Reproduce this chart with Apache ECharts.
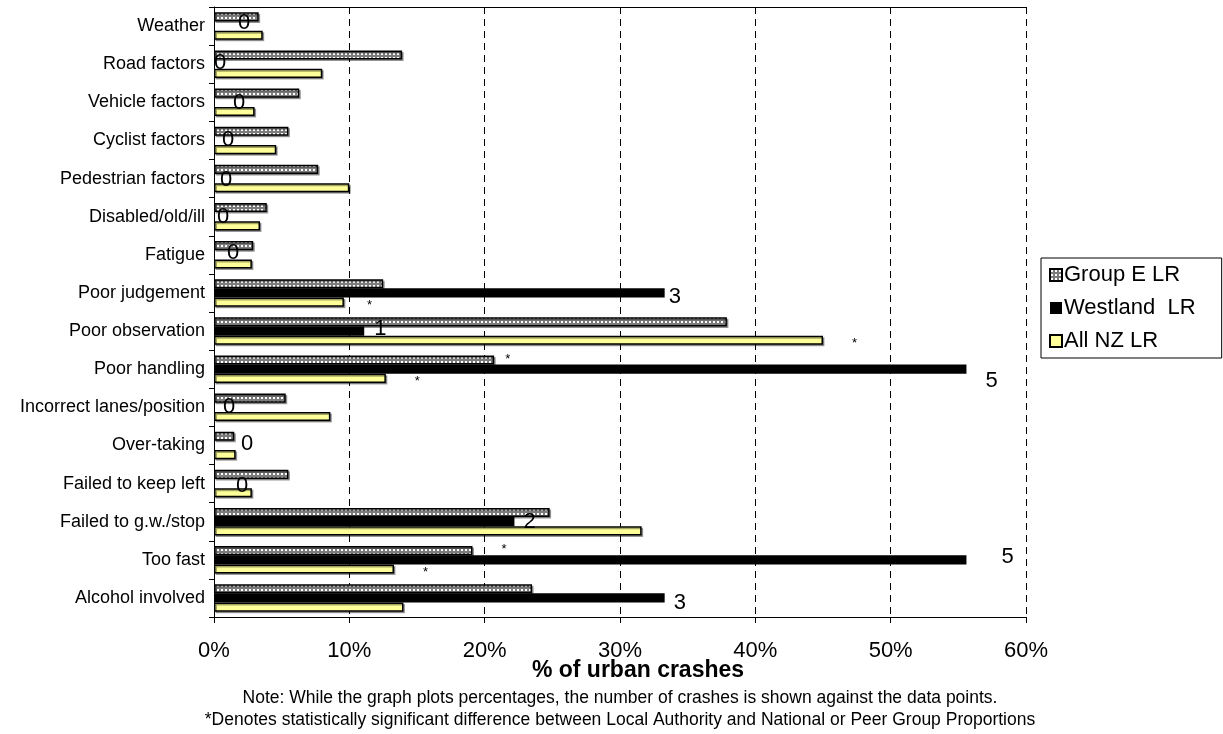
<!DOCTYPE html>
<html>
<head>
<meta charset="utf-8">
<script src="https://cdn.jsdelivr.net/npm/echarts@6/dist/echarts.min.js"></script>
<style>
html, body { margin: 0; padding: 0; background: #fff; }
#container { width: 1223px; height: 734px; }
</style>
</head>
<body>
<div id="container"></div>
<script>
var categories = ['Weather', 'Road factors', 'Vehicle factors', 'Cyclist factors', 'Pedestrian factors',
    'Disabled/old/ill', 'Fatigue', 'Poor judgement', 'Poor observation', 'Poor handling',
    'Incorrect lanes/position', 'Over-taking', 'Failed to keep left', 'Failed to g.w./stop',
    'Too fast', 'Alcohol involved'];
var groupE   = [3.3, 13.9, 6.3, 5.5, 7.7, 3.9, 2.9, 12.5, 37.9, 20.7, 5.3, 1.5, 5.5, 24.8, 19.1, 23.5];
var westland = [0, 0, 0, 0, 0, 0, 0, 33.3, 11.1, 55.6, 0, 0, 0, 22.2, 55.6, 33.3];
var westlandCrashes = [0, 0, 0, 0, 0, 0, 0, 3, 1, 5, 0, 0, 0, 2, 5, 3];
var allNZ    = [3.6, 8.0, 3.0, 4.6, 10.0, 3.4, 2.8, 9.6, 45.0, 12.7, 8.6, 1.6, 2.8, 31.6, 13.3, 14.0];
// 1 = statistically significant difference
var sigGroupE = [0, 0, 0, 0, 0, 0, 0, 0, 0, 1, 0, 0, 0, 0, 1, 0];
var sigAllNZ  = [0, 0, 0, 0, 0, 0, 0, 1, 1, 1, 0, 0, 0, 0, 1, 0];
var xTicks = [0, 10, 20, 30, 40, 50, 60];

// the count labels were dragged around by hand in the original, so nudge them
var countNudge = [[19, -3], [-5, -1], [14, 1], [3, -1], [1, 1], [-2, 0], [8, -2], [-1, 4],
    [5, -2], [14, 12], [4, 0], [22, -2], [17, 2], [4, 0], [30, -3], [4, 5]];
var starNudgeE = {9: [6, -1], 14: [24, -1]};
var starNudgeNZ = {7: [18, 3], 8: [24, 3], 9: [24, 3], 14: [24, 3]};

// dotted fill used by Excel for the peer group bars
var tile = document.createElement('canvas');
tile.width = 4; tile.height = 4;
var tctx = tile.getContext('2d');
tctx.fillStyle = '#7c7c7c';
tctx.fillRect(0, 0, 4, 4);
tctx.fillStyle = '#ffffff';
tctx.fillRect(1, 1, 2, 2);
var dotted = { image: tile, repeat: 'repeat' };

var dom = document.getElementById('container');
var myChart = echarts.init(dom);
var font = 'Liberation Sans, Arial, sans-serif';

var westlandData = [], groupEData = [], nzData = [];
for (var i = 0; i < categories.length; i++) {
    westlandData.push({ value: westland[i], label: { offset: countNudge[i] } });
    groupEData.push({ value: groupE[i], label: { show: !!sigGroupE[i], offset: starNudgeE[i] || [0, 0] } });
    nzData.push({ value: allNZ[i], label: { show: !!sigAllNZ[i], offset: starNudgeNZ[i] || [0, 0] } });
}

var starLabel = {
    show: true,
    position: 'right',
    distance: 5,
    formatter: '*',
    fontSize: 13,
    fontFamily: font,
    color: '#000'
};

var option = {
    animation: false,
    textStyle: { fontFamily: font },
    legend: {
        orient: 'vertical',
        left: 1041,
        top: 258,
        padding: [6, 26, 6, 8],
        itemGap: 11,
        itemWidth: 12,
        itemHeight: 12,
        icon: 'rect',
        borderColor: '#000',
        borderWidth: 1,
        textStyle: { fontSize: 22, color: '#000', fontFamily: font, padding: [0, 0, 0, -3] },
        data: ['Group E LR', 'Westland  LR', 'All NZ LR']
    },
    grid: { left: 214, right: 197, top: 7, bottom: 117, containLabel: false },
    xAxis: [{
        type: 'value',
        min: 0,
        max: 60,
        interval: 10,
        axisLine: { show: true, lineStyle: { color: '#000', width: 1 } },
        axisTick: { show: true, length: 6, lineStyle: { color: '#000' } },
        axisLabel: {
            margin: 23, fontSize: 22, color: '#000', fontFamily: font,
            formatter: function (v) { return xTicks.indexOf(v) >= 0 ? v + '%' : ''; }
        },
        splitLine: { show: true, lineStyle: { color: '#000', type: [7, 5], width: 1 } }
    }, {
        type: 'value',
        position: 'top',
        min: 0,
        max: 60,
        axisLine: { show: true, lineStyle: { color: '#000', width: 1 } },
        axisTick: { show: false },
        axisLabel: { show: false },
        splitLine: { show: false }
    }],
    yAxis: {
        type: 'category',
        inverse: true,
        data: categories,
        axisLine: { show: true, lineStyle: { color: '#000', width: 1 } },
        axisTick: { show: true, length: 5, lineStyle: { color: '#000' } },
        axisLabel: { margin: 9, fontSize: 18, color: '#000', fontFamily: font }
    },
    series: [
        {
            name: 'Group E LR',
            type: 'bar',
            xAxisIndex: 0,
            barCategoryGap: '28%',
            barGap: '0%',
            itemStyle: {
                color: dotted, borderColor: '#000', borderWidth: 1.5,
                shadowColor: 'rgba(0,0,0,0.35)', shadowOffsetX: 1.5, shadowOffsetY: 1.5
            },
            label: starLabel,
            data: groupEData
        },
        {
            name: 'Westland  LR',
            type: 'bar',
            xAxisIndex: 0,
            itemStyle: { color: '#000', borderWidth: 0 },
            label: {
                show: true,
                position: 'right',
                distance: 5,
                fontSize: 22,
                fontFamily: font,
                color: '#000',
                formatter: function (p) { return westlandCrashes[p.dataIndex]; }
            },
            data: westlandData
        },
        {
            name: 'All NZ LR',
            type: 'bar',
            xAxisIndex: 0,
            itemStyle: {
                color: '#ffff99', borderColor: '#000', borderWidth: 1.5,
                shadowColor: 'rgba(0,0,0,0.35)', shadowOffsetX: 1.5, shadowOffsetY: 1.5
            },
            label: starLabel,
            data: nzData
        }
    ],
    graphic: [{
        type: 'text',
        x: 638,
        y: 671,
        style: {
            text: '% of urban crashes',
            font: 'bold 23px ' + font,
            fill: '#000',
            textAlign: 'center',
            textVerticalAlign: 'middle'
        }
    }, {
        type: 'text',
        x: 620,
        y: 687,
        style: {
            text: 'Note: While the graph plots percentages, the number of crashes is shown against the data points.\n*Denotes statistically significant difference between Local Authority and National or Peer Group Proportions',
            font: '17.5px ' + font,
            fill: '#000',
            textAlign: 'center',
            lineHeight: 22
        }
    }]
};

myChart.setOption(option, true);
</script>
</body>
</html>
